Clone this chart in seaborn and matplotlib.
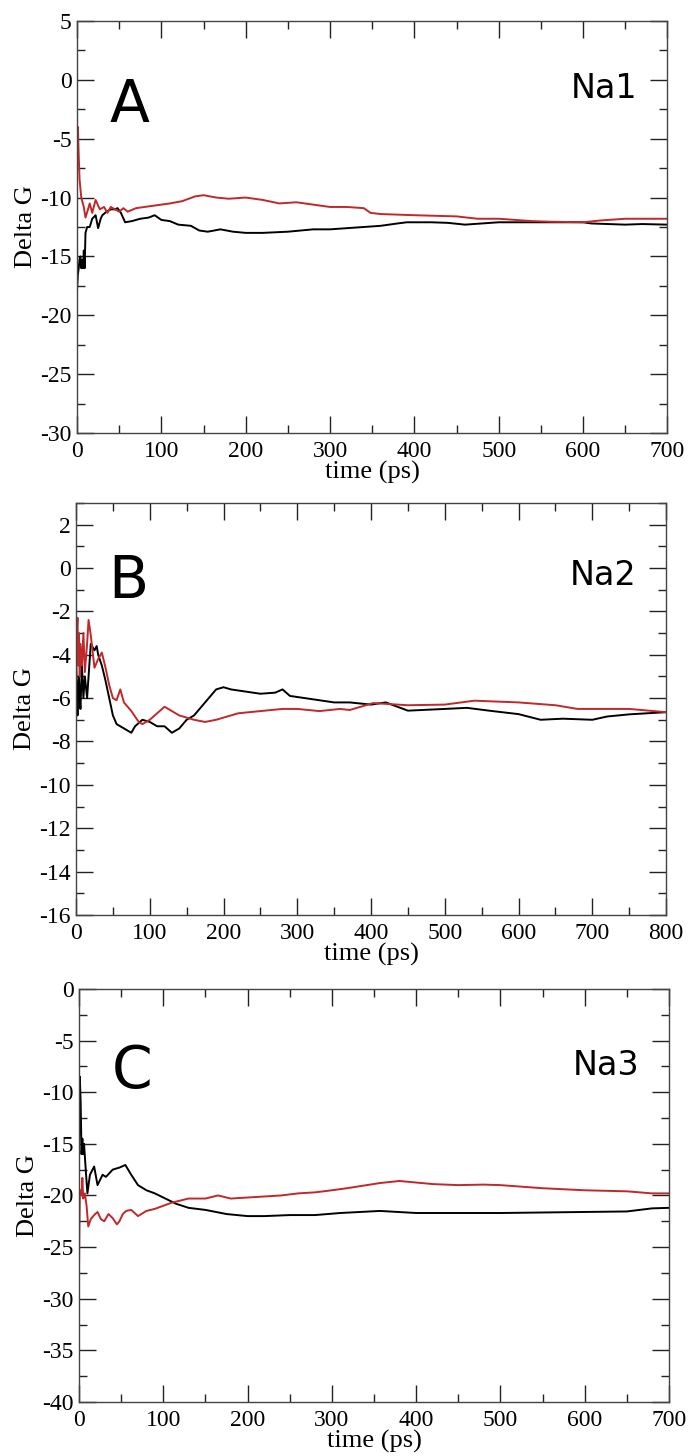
import matplotlib
matplotlib.use("Agg")
import matplotlib.pyplot as plt
import seaborn as sns
from matplotlib.ticker import MultipleLocator

# ---------------- data ----------------
# Panel A (Na1)
a_black_t = [0, 1, 2, 3, 4, 5, 6, 7, 8, 9,
             10, 12, 15, 18, 22, 25, 28, 30, 35, 40,
             45, 48, 52, 57, 65, 75, 85, 92, 100, 110,
             120, 135, 145, 155, 170, 185, 200, 220, 250, 280,
             300, 320, 340, 360, 380, 391, 420, 440, 460, 480,
             500, 520, 550, 580, 600, 610, 630, 650, 670, 700]
a_black_g = [-17.8, -16.5, -16.0, -15.2, -15.0, -16.0, -15.3, -16.0, -14.5, -16.0,
             -13.0, -12.5, -12.5, -11.8, -11.5, -12.6, -11.8, -11.5, -11.2, -11.0,
             -11.0, -10.9, -11.3, -12.1, -12.0, -11.8, -11.7, -11.5, -11.9, -12.0,
             -12.3, -12.4, -12.8, -12.9, -12.7, -12.9, -13.0, -13.0, -12.9, -12.7,
             -12.7, -12.6, -12.5, -12.4, -12.2, -12.1, -12.1, -12.15, -12.3, -12.2,
             -12.1, -12.1, -12.1, -12.1, -12.1, -12.2, -12.25, -12.3, -12.25, -12.3]
a_red_t = [0, 1, 2, 3, 5, 8, 10, 13, 15, 18,
           22, 27, 32, 36, 40, 50, 55, 60, 70, 90,
           110, 125, 140, 150, 165, 180, 200, 220, 240, 260,
           280, 300, 320, 340, 348, 360, 400, 450, 475, 500,
           520, 540, 560, 600, 620, 650, 700]
a_red_g = [-6.5, -4.0, -6.5, -8.5, -10.0, -10.8, -11.7, -11.0, -10.5, -11.3,
           -10.2, -11.0, -10.8, -11.3, -10.8, -11.2, -10.9, -11.2, -10.9, -10.7,
           -10.5, -10.3, -9.9, -9.8, -10.0, -10.1, -10.0, -10.2, -10.5, -10.4,
           -10.6, -10.8, -10.8, -10.9, -11.3, -11.4, -11.5, -11.6, -11.8, -11.8,
           -11.9, -12.0, -12.05, -12.1, -11.95, -11.8, -11.8]

# Panel B (Na2)
b_black_t = [0, 1, 2, 3, 4, 5, 6, 8, 10, 12,
             15, 18, 20, 25, 28, 30, 35, 40, 45, 50,
             55, 65, 75, 80, 90, 100, 110, 120, 130, 140,
             150, 160, 170, 180, 190, 200, 210, 230, 250, 270,
             280, 290, 310, 330, 350, 371, 400, 420, 450, 500,
             530, 560, 600, 630, 660, 700, 720, 750, 800]
b_black_g = [-4.0, -5.5, -6.8, -5.5, -5.0, -6.0, -6.5, -4.5, -6.0, -5.0,
             -6.0, -4.5, -3.5, -3.8, -3.6, -4.0, -4.5, -5.2, -6.0, -6.8,
             -7.2, -7.4, -7.6, -7.3, -7.0, -7.1, -7.3, -7.3, -7.6, -7.4,
             -7.0, -6.8, -6.4, -6.0, -5.6, -5.5, -5.6, -5.7, -5.8, -5.75,
             -5.6, -5.9, -6.0, -6.1, -6.2, -6.2, -6.3, -6.2, -6.58, -6.5,
             -6.45, -6.58, -6.74, -7.0, -6.95, -7.0, -6.85, -6.75, -6.65]
b_red_t = [0, 1, 2, 3, 4, 5, 6, 8, 10, 12,
           15, 17, 20, 25, 30, 35, 40, 45, 50, 55,
           60, 65, 75, 85, 90, 100, 110, 120, 130, 140,
           150, 160, 175, 190, 200, 220, 250, 280, 300, 330,
           358, 371, 403, 450, 500, 540, 600, 650, 680, 700,
           750, 800]
b_red_g = [-5.0, -3.0, -2.3, -4.5, -3.0, -5.0, -3.5, -4.5, -3.0, -4.8,
           -3.5, -2.4, -3.1, -4.6, -4.2, -3.9, -4.6, -5.4, -6.0, -6.1,
           -5.6, -6.2, -6.6, -7.1, -7.2, -7.0, -6.7, -6.4, -6.6, -6.8,
           -6.9, -7.0, -7.1, -7.0, -6.9, -6.7, -6.6, -6.5, -6.5, -6.6,
           -6.5, -6.55, -6.23, -6.33, -6.3, -6.12, -6.2, -6.33, -6.5, -6.5,
           -6.5, -6.65]

# Panel C (Na3)
c_black_t = [0, 1, 2, 3, 4, 5, 6, 8, 10, 13,
             18, 22, 28, 32, 40, 48, 55, 62, 70, 80,
             90, 100, 115, 130, 150, 175, 200, 220, 250, 280,
             310, 357, 400, 450, 500, 550, 600, 650, 680, 700]
c_black_g = [-16.0, -8.5, -11.0, -16.0, -14.5, -16.0, -15.0, -17.5, -19.8, -18.0,
             -17.2, -19.0, -18.0, -18.2, -17.5, -17.3, -17.05, -18.0, -19.0, -19.5,
             -19.8, -20.2, -20.8, -21.2, -21.4, -21.8, -22.0, -22.0, -21.9, -21.9,
             -21.7, -21.5, -21.7, -21.7, -21.7, -21.65, -21.6, -21.55, -21.25, -21.2]
c_red_t = [0, 0.5, 1, 2, 3, 4, 5, 7, 9, 11,
           14, 18, 22, 26, 30, 35, 40, 45, 48, 52,
           56, 62, 70, 80, 90, 100, 110, 120, 130, 150,
           165, 180, 200, 220, 240, 260, 280, 300, 318, 357,
           380, 420, 450, 480, 500, 550, 600, 650, 680, 700]
c_red_g = [-27.5, -23.0, -20.0, -19.5, -20.0, -18.3, -20.3, -19.8, -21.0, -23.0,
           -22.3, -21.9, -21.6, -22.3, -22.5, -21.8, -22.2, -22.8, -22.5, -21.8,
           -21.5, -21.4, -22.0, -21.5, -21.3, -21.0, -20.7, -20.5, -20.3, -20.3,
           -20.0, -20.3, -20.2, -20.1, -20.0, -19.8, -19.7, -19.5, -19.3, -18.8,
           -18.6, -18.9, -19.0, -18.95, -19.0, -19.3, -19.5, -19.6, -19.8, -19.8]

panel_letters = ["A", "B", "C"]
ion_labels = ["Na1", "Na2", "Na3"]
x_label = "time (ps)"
y_label = "Delta G"

# ---------------- style ----------------
sns.set_style("ticks")
plt.rcParams['font.family'] = ['Liberation Serif', 'DejaVu Serif']
plt.rcParams['axes.unicode_minus'] = False
plt.rcParams['text.color'] = 'black'
plt.rcParams['axes.labelcolor'] = 'black'
plt.rcParams['xtick.color'] = 'black'
plt.rcParams['ytick.color'] = 'black'

BLACK = "#000000"
RED = "#c0282a"
SPINE = "#444444"

fig = plt.figure(figsize=(6.88, 14.56), dpi=100)

panels = [
    dict(rect=[0.112, 0.7026, 0.858, 0.283], xlim=(0, 700), ylim=(-30, 5),
         ymaj=5, ymin=2.5, black=(a_black_t, a_black_g), red=(a_red_t, a_red_g),
         letter_y=0.755, ion_y=0.813),
    dict(rect=[0.1105, 0.3716, 0.8576, 0.283], xlim=(0, 800), ylim=(-16, 3),
         ymaj=2, ymin=1, black=(b_black_t, b_black_g), red=(b_red_t, b_red_g),
         letter_y=0.769, ion_y=0.80),
    dict(rect=[0.1148, 0.0371, 0.8576, 0.2837], xlim=(0, 700), ylim=(-40, 0),
         ymaj=5, ymin=2.5, black=(c_black_t, c_black_g), red=(c_red_t, c_red_g),
         letter_y=0.76, ion_y=0.792),
]

for i, p in enumerate(panels):
    ax = fig.add_axes(p["rect"])
    sns.lineplot(x=p["black"][0], y=p["black"][1], color=BLACK, lw=1.4,
                 estimator=None, sort=False, ax=ax)
    sns.lineplot(x=p["red"][0], y=p["red"][1], color=RED, lw=1.4,
                 estimator=None, sort=False, ax=ax)
    ax.set_xlim(*p["xlim"])
    ax.set_ylim(*p["ylim"])
    ax.xaxis.set_major_locator(MultipleLocator(100))
    ax.xaxis.set_minor_locator(MultipleLocator(50))
    ax.yaxis.set_major_locator(MultipleLocator(p["ymaj"]))
    ax.yaxis.set_minor_locator(MultipleLocator(p["ymin"]))
    ax.tick_params(which='both', direction='in', top=True, right=True,
                   color='#222222', width=1.0, labelcolor='black')
    ax.tick_params(which='major', length=12, labelsize=17)
    ax.tick_params(axis='x', which='major', pad=6)
    ax.tick_params(axis='y', which='major', pad=4)
    ax.tick_params(which='minor', length=6)
    for s in ax.spines.values():
        s.set_color(SPINE)
        s.set_linewidth(1.0)
    ax.set_xlabel(x_label, fontsize=19, labelpad=-1, color='black')
    ax.set_ylabel(y_label, fontsize=19, labelpad=2, color='black')
    ax.text(0.055, p["letter_y"], panel_letters[i], transform=ax.transAxes,
            fontsize=42, family=['DejaVu Sans'], ha='left', va='baseline',
            color='black')
    ax.text(0.95, p["ion_y"], ion_labels[i], transform=ax.transAxes,
            fontsize=24, family=['DejaVu Sans'], ha='right', va='baseline',
            color='black')

fig.savefig("out.png", dpi=100)
